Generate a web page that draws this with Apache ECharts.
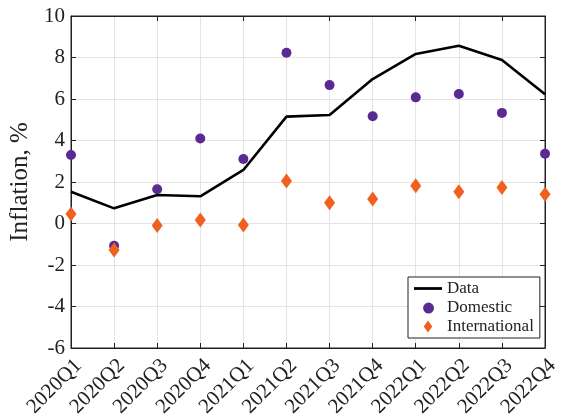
<!DOCTYPE html>
<html><head><meta charset="utf-8">
<script src="https://cdn.jsdelivr.net/npm/echarts@6/dist/echarts.min.js"></script>
<style>html,body{margin:0;padding:0;background:#fff}#c{width:562px;height:420px}</style>
</head><body><div id="c"></div>
<script>
const categories = ['2020Q1','2020Q2','2020Q3','2020Q4','2021Q1','2021Q2','2021Q3','2021Q4','2022Q1','2022Q2','2022Q3','2022Q4'];
const dataSeries = [1.53, 0.73, 1.37, 1.31, 2.58, 5.15, 5.23, 6.96, 8.17, 8.57, 7.88, 6.23];
const domestic = [3.30, -1.07, 1.65, 4.10, 3.11, 8.23, 6.67, 5.17, 6.08, 6.24, 5.33, 3.36];
const international = [0.46, -1.28, -0.10, 0.17, -0.07, 2.05, 1.00, 1.18, 1.82, 1.53, 1.73, 1.41];
const yTicks = {min: -6, max: 10, interval: 2};

const font = 'Liberation Serif';
const chart = echarts.init(document.getElementById('c'), null, {renderer: 'canvas'});
chart.setOption({
  animation: false,
  backgroundColor: '#fff',
  grid: {left: 67, right: 14, top: 16, bottom: 72, show: true, borderColor: '#222', borderWidth: 1, backgroundColor: 'transparent'},
  xAxis: [{
    type: 'category', data: categories, boundaryGap: false,
    axisLine: {onZero: false, lineStyle: {color: '#222', width: 1}},
    axisTick: {inside: true, length: 5, lineStyle: {color: '#222'}},
    axisLabel: {rotate: 45, fontFamily: font, fontSize: 21, color: '#222', margin: 7, verticalAlign: 'top'},
    splitLine: {show: true, lineStyle: {color: '#e4e4e4', width: 1}}
  }, {
    type: 'category', data: categories, boundaryGap: false, position: 'top',
    axisLine: {onZero: false, lineStyle: {color: '#222'}},
    axisTick: {inside: true, length: 5, lineStyle: {color: '#222'}},
    axisLabel: {show: false}, splitLine: {show: false}
  }],
  yAxis: [{
    type: 'value', min: yTicks.min, max: yTicks.max, interval: yTicks.interval,
    name: 'Inflation, %', nameLocation: 'middle', nameGap: 38,
    nameTextStyle: {fontFamily: font, fontSize: 25, color: '#222'},
    axisLine: {show: true, onZero: false, lineStyle: {color: '#222'}},
    axisTick: {show: true, inside: true, length: 5, lineStyle: {color: '#222'}},
    axisLabel: {fontFamily: font, fontSize: 21, color: '#222', margin: 6},
    splitLine: {show: true, lineStyle: {color: '#e4e4e4', width: 1}}
  }, {
    type: 'value', min: yTicks.min, max: yTicks.max, interval: yTicks.interval, position: 'right',
    axisLine: {show: true, onZero: false, lineStyle: {color: '#222'}},
    axisTick: {show: true, inside: true, length: 5, lineStyle: {color: '#222'}},
    axisLabel: {show: false}, splitLine: {show: false}
  }],
  legend: {
    orient: 'vertical', left: 408, top: 277, width: 133,
    backgroundColor: '#fff', borderColor: '#222', borderWidth: 1,
    padding: [3, 6, 3, 6], itemGap: 2, itemWidth: 28, itemHeight: 12,
    textStyle: {fontFamily: font, fontSize: 17, color: '#222'},
    data: [
      {name: 'Data', icon: 'path://M0,0 H100 V10 H0 Z', itemStyle: {color: '#000'}},
      {name: 'Domestic', icon: 'path://M0,5 A5,5 0 1,0 10,5 A5,5 0 1,0 0,5 Z M-1,-1 Z', itemStyle: {color: '#5a2a93', opacity: 1}},
      {name: 'International', icon: 'path://M5,0 L10,7 L5,14 L0,7 Z', itemStyle: {color: '#f0601e', opacity: 1}}
    ]
  },
  series: [{
    name: 'Data', type: 'line', data: dataSeries, symbol: 'none',
    lineStyle: {color: '#000', width: 2.6}, itemStyle: {color: '#000'}, z: 3
  }, {
    name: 'Domestic', type: 'scatter', data: domestic, symbol: 'circle', symbolSize: 10,
    itemStyle: {color: '#5a2a93', opacity: 1}, z: 4
  }, {
    name: 'International', type: 'scatter', data: international, symbol: 'diamond', symbolSize: [11, 15],
    itemStyle: {color: '#f0601e', opacity: 1}, z: 5
  }]
});
</script></body></html>
